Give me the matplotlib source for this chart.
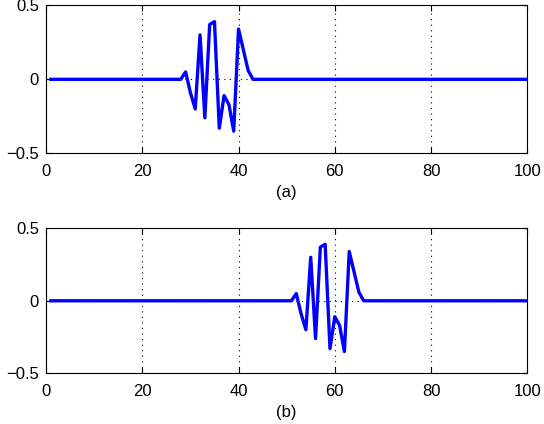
import numpy as np
import matplotlib
matplotlib.use('Agg')
import matplotlib.pyplot as plt

plt.rcParams['font.family'] = ['Liberation Sans', 'DejaVu Sans']

# sample index runs 1..100, signal is zero outside the burst
n = np.arange(1, 101)

# burst in panel (a), starting at n = 28
burst_a_start = 28
burst_a = [0.0, 0.05, -0.09, -0.20, 0.30, -0.26, 0.37, 0.39,
           -0.33, -0.11, -0.17, -0.35, 0.34, 0.20, 0.06, 0.0]

# burst in panel (b), starting at n = 51
burst_b_start = 51
burst_b = [0.0, 0.05, -0.09, -0.20, 0.30, -0.26, 0.37, 0.39,
           -0.33, -0.11, -0.17, -0.35, 0.34, 0.20, 0.06, 0.0]

panel_labels = ['(a)', '(b)']
xticks = [0, 20, 40, 60, 80, 100]
yticks = [-0.5, 0, 0.5]


def make_signal(start, burst):
    y = np.zeros(len(n))
    i0 = start - 1
    y[i0:i0 + len(burst)] = burst
    return y


signals = [make_signal(burst_a_start, burst_a),
           make_signal(burst_b_start, burst_b)]

fig = plt.figure(figsize=(5.44, 4.24), dpi=100)
ax_rects = [[0.0846, 0.6384, 0.8847, 0.349],
            [0.0846, 0.1196, 0.8847, 0.342]]

for rect, y, lab in zip(ax_rects, signals, panel_labels):
    ax = fig.add_axes(rect)
    ax.plot(n, y, color='#0000ff', lw=2.4)
    ax.set_xlim(0, 100)
    ax.set_ylim(-0.5, 0.5)
    ax.set_xticks(xticks)
    ax.set_yticks(yticks)
    ax.set_yticklabels(['\u22120.5', '0', '0.5'])
    ax.grid(True, linestyle=(0, (1, 4)), color='k', linewidth=0.8)
    ax.tick_params(direction='in', length=4, top=True, right=True,
                   labelsize=12)
    ax.tick_params(axis='x', pad=8)
    ax.tick_params(axis='y', pad=5)
    ax.set_xlabel(lab, fontsize=12, labelpad=4)
    for s in ax.spines.values():
        s.set_linewidth(0.8)

fig.savefig('out.png', dpi=100)
